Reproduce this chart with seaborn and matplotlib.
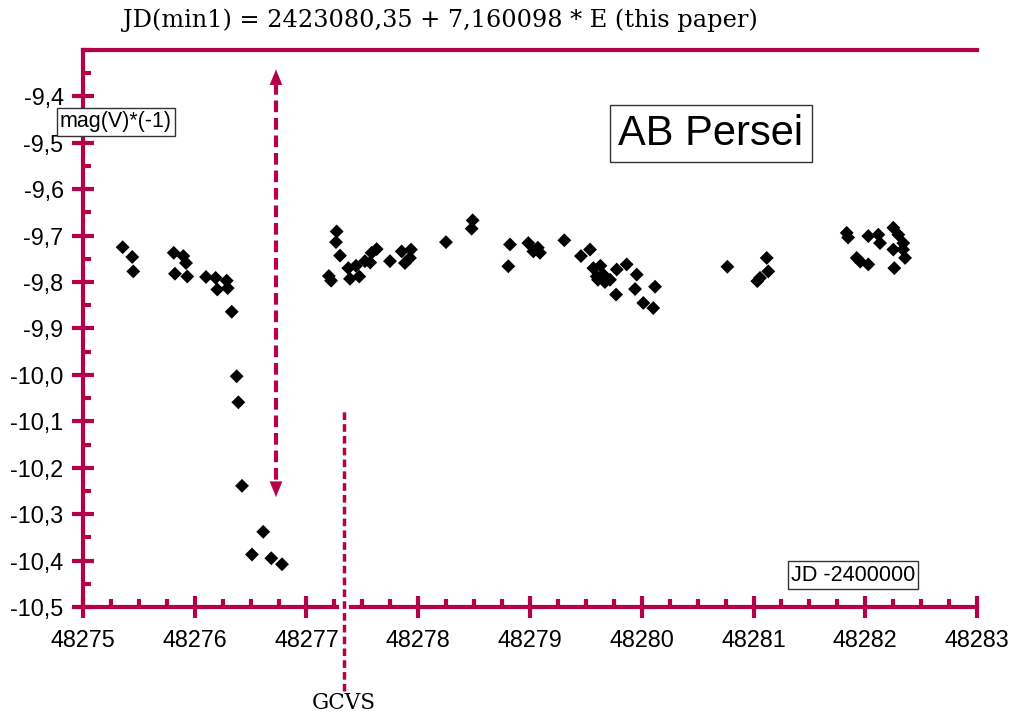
import numpy as np
import pandas as pd
import seaborn as sns
import matplotlib.pyplot as plt
from matplotlib.ticker import MultipleLocator, FixedLocator, FuncFormatter

# light curve of AB Per
jd = [
    48275.355, 48275.441, 48275.450, 48275.812, 48275.823, 48275.898, 48275.922,
    48275.933, 48276.101, 48276.187, 48276.202, 48276.286, 48276.295, 48276.331,
    48276.375, 48276.390, 48276.423, 48276.512, 48276.613, 48276.685, 48276.781,
    48277.200, 48277.220, 48277.270, 48277.264, 48277.300, 48277.374, 48277.389,
    48277.472, 48277.443, 48277.523, 48277.583, 48277.628, 48277.570, 48277.747,
    48277.852, 48277.926, 48277.881, 48277.935, 48278.248, 48278.487, 48278.478,
    48278.821, 48278.806, 48278.985, 48279.030, 48279.089, 48279.070, 48279.307,
    48279.456, 48279.537, 48279.567, 48279.597, 48279.656, 48279.608, 48279.716,
    48279.776, 48279.865, 48279.955, 48279.940, 48279.770, 48280.119, 48280.014,
    48280.103, 48279.670, 48279.630,
    48280.766, 48281.118, 48281.132, 48281.034, 48281.058,
    48281.834, 48281.846, 48282.027, 48282.117, 48282.132, 48282.251, 48282.296,
    48282.340, 48282.251, 48282.356, 48281.923, 48282.027, 48282.260, 48281.955,
    48282.338,
]
mag = [
    -9.725, -9.746, -9.777, -9.737, -9.782, -9.744, -9.759,
    -9.788, -9.789, -9.791, -9.816, -9.797, -9.813, -9.864,
    -10.003, -10.059, -10.239, -10.387, -10.338, -10.395, -10.408,
    -9.787, -9.797, -9.691, -9.714, -9.743, -9.770, -9.793,
    -9.788, -9.765, -9.755, -9.737, -9.729, -9.758, -9.755,
    -9.734, -9.748, -9.759, -9.730, -9.714, -9.667, -9.685,
    -9.719, -9.766, -9.716, -9.734, -9.737, -9.726, -9.710,
    -9.744, -9.730, -9.770, -9.788, -9.784, -9.795, -9.795,
    -9.773, -9.762, -9.784, -9.815, -9.827, -9.810, -9.845,
    -9.856, -9.800, -9.765,
    -9.767, -9.748, -9.777, -9.798, -9.791,
    -9.694, -9.704, -9.701, -9.698, -9.716, -9.683, -9.698,
    -9.716, -9.730, -9.748, -9.748, -9.762, -9.770, -9.756,
    -9.730,
]

title_text = "JD(min1) = 2423080,35 + 7,160098 * E (this paper)"
star_name = "AB Persei"
y_label = "mag(V)*(-1)"
x_label = "JD -2400000"
y_major = [-10.5, -10.4, -10.3, -10.2, -10.1, -10.0, -9.9, -9.8, -9.7, -9.6, -9.5, -9.4]

# markers on the chart: predicted minimum (this paper) and the GCVS one
min_this_paper = 48276.727
arrow_top, arrow_bottom = -9.342, -10.263
min_gcvs = 48277.336

crimson = "#b5004a"

df = pd.DataFrame({"JD": jd, "mag": mag})

sns.set_style("white")
plt.rcParams["font.family"] = ["Liberation Sans", "DejaVu Sans"]
plt.rcParams["text.color"] = "black"

fig = plt.figure(figsize=(10.17, 7.19), dpi=100)
ax = fig.add_axes([0.0816, 0.1558, 0.8791, 0.7747])

sns.scatterplot(data=df, x="JD", y="mag", marker="D", s=50, color="black",
                edgecolor="none", linewidth=0, ax=ax, zorder=4, clip_on=False)

ax.set_xlim(48275, 48283)
ax.set_ylim(-10.5, -9.3)
ax.set_xlabel("")
ax.set_ylabel("")

ax.xaxis.set_major_locator(MultipleLocator(1))
ax.xaxis.set_minor_locator(MultipleLocator(0.25))
ax.yaxis.set_major_locator(FixedLocator(y_major))
ax.yaxis.set_minor_locator(MultipleLocator(0.05))
ax.yaxis.set_major_formatter(FuncFormatter(lambda v, p: f"{v:.1f}".replace(".", ",")))
ax.xaxis.set_major_formatter(FuncFormatter(lambda v, p: f"{v:.0f}"))

for side in ["left", "bottom", "top"]:
    ax.spines[side].set_visible(True)
    ax.spines[side].set_color(crimson)
    ax.spines[side].set_linewidth(3)
ax.spines["right"].set_visible(False)

ax.tick_params(axis="both", which="both", bottom=True, left=True, top=False, right=False)
ax.tick_params(which="major", direction="inout", length=16, width=3,
               color=crimson, labelsize=16.8, labelcolor="black")
ax.tick_params(axis="x", which="major", pad=7.5)
ax.tick_params(axis="y", which="major", pad=6)
ax.tick_params(which="minor", direction="in", length=5.5, width=3, color=crimson)

# double-headed dashed arrow at the minimum from this paper
ax.plot([min_this_paper, min_this_paper], [arrow_top - 0.03, arrow_bottom + 0.03],
        color=crimson, lw=3, dashes=(2.8, 1.4), zorder=3)
head = dict(arrowstyle="-|>,head_length=1.1,head_width=0.45",
            color=crimson, lw=0.1, shrinkA=0, shrinkB=0)
ax.annotate("", xy=(min_this_paper, arrow_top),
            xytext=(min_this_paper, arrow_top - 0.045), arrowprops=head)
ax.annotate("", xy=(min_this_paper, arrow_bottom),
            xytext=(min_this_paper, arrow_bottom + 0.045), arrowprops=head)

# GCVS minimum, dotted line running below the axis
ax.axvline(min_gcvs, ymin=-0.15, ymax=0.005, color="white", lw=7, clip_on=False, zorder=3)
ax.axvline(min_gcvs, ymin=-0.15, ymax=0.355, color=crimson, lw=2.5,
           dashes=(2.2, 1.2), clip_on=False, zorder=3.5)
fig.text(0.338, 0.0216, "GCVS", family="DejaVu Serif", fontsize=15.5,
         ha="center", va="center")

fig.text(0.4326, 0.972, title_text, family="DejaVu Serif", fontsize=17.3,
         ha="center", va="center")

box = dict(boxstyle="square,pad=0.15", facecolor="white", edgecolor="#333333", lw=1)
fig.text(0.114, 0.8305, y_label, fontsize=15.5, ha="center", va="center", bbox=box)
fig.text(0.8388, 0.2, x_label, fontsize=15.5, ha="center", va="center", bbox=box)
fig.text(0.699, 0.8143, star_name, fontsize=30, ha="center", va="center",
         bbox=dict(boxstyle="square,pad=0.2", facecolor="white", edgecolor="#333333", lw=1))

fig.savefig("out.png", dpi=100)
